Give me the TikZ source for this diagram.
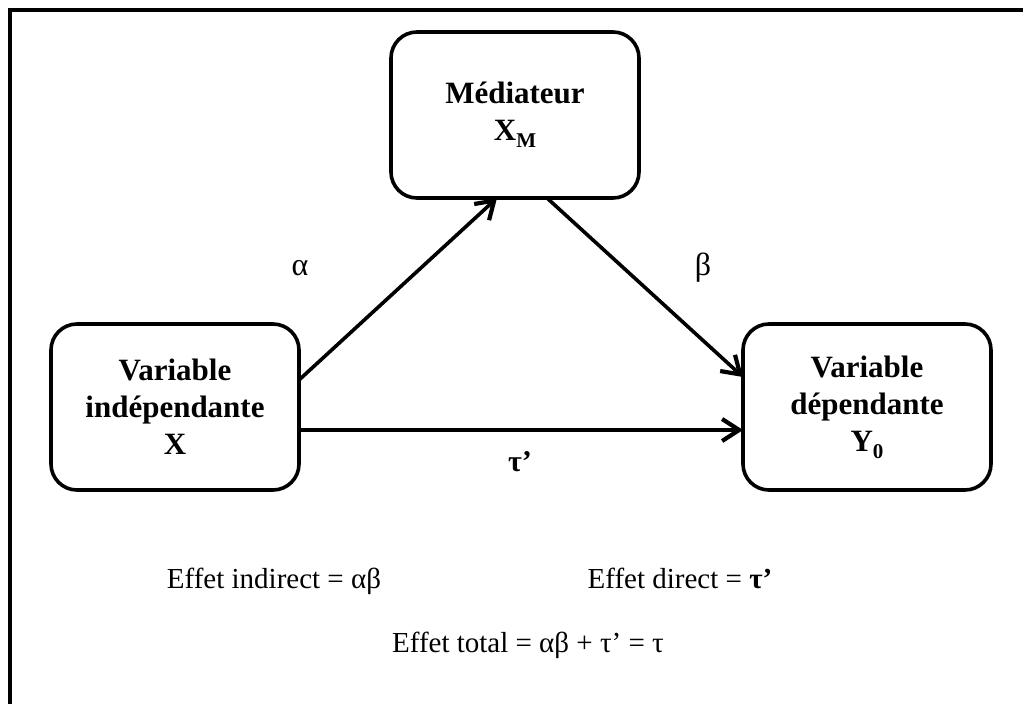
\documentclass[tikz,border=0pt]{standalone}
\usepackage{fontspec}
\setmainfont{Liberation Serif}
\usetikzlibrary{arrows.meta}
\tikzset{
  varbox/.style={draw, line width=3.6pt, rounded corners=26pt, minimum width=248pt,
    minimum height=166pt, align=center, outer sep=0pt,
    font=\fontsize{31}{37}\selectfont\bfseries},
  link/.style={line width=3.6pt, -{Straight Barb[length=17pt,width=22pt,line width=4.2pt]}},
  coef/.style={font=\fontsize{32}{36}\selectfont},
  effet/.style={font=\fontsize{29}{34}\selectfont, anchor=base}
}
\newcommand{\sbx}[1]{\raisebox{-0.22em}{\fontsize{21}{21}\selectfont #1}}
\begin{document}
\begin{tikzpicture}[x=1pt,y=-1pt]
  \useasboundingbox (0,0) rectangle (1023,704);
  % outer frame (left and top edges)
  \draw[line width=4pt] (10,704) -- (10,10) -- (1023,10);

  % variables
  \node[varbox] (M) at (515,115) {Médiateur\\X\sbx{M}};
  \node[varbox] (L) at (175,407) {Variable\\indépendante\\X};
  \node[varbox] (R) at (867,407) {Variable\\dépendante\\Y\sbx{0}};

  % paths
  \draw[link] ([yshift=27pt]L.east) -- ([xshift=-18pt]M.south);
  \draw[link] ([xshift=32pt]M.south) -- ([yshift=30pt]R.west);
  \draw[link] ([yshift=-23pt]L.east) -- ([yshift=-23pt]R.west);

  % coefficients
  \node[coef] (a) at (300,268) {α};
  \node[coef] (b) at (703,268) {β};
  \node[coef,font=\fontsize{30}{34}\selectfont\bfseries] (t) at (520,462) {τ’};

  % effects
  \node[effet] (ind) at (274,588) {Effet indirect = αβ};
  \node[effet] (dir) at (680,588) {Effet direct = \textbf{τ’}};
  \node[effet] (tot) at (528,652) {Effet total = αβ + τ’ = τ};
\end{tikzpicture}
\end{document}
